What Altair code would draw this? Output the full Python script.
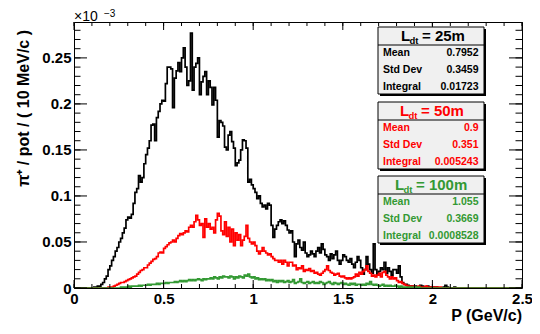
import altair as alt
import pandas as pd

# ---------------- data (bin contents, units of 1e-3, bins of 0.01 GeV/c) ----------------
N_BINS = 250
BIN_W = 0.01

black_first_bin = 10
black_vals = [
    0.000, 0.001, 0.001, 0.002, 0.002, 0.004, 0.006, 0.010, 0.013, 0.020,
    0.024, 0.030, 0.034, 0.040, 0.044, 0.050, 0.054, 0.060, 0.065, 0.074,
    0.077, 0.076, 0.080, 0.092, 0.104, 0.108, 0.122, 0.115, 0.120, 0.135,
    0.145, 0.152, 0.160, 0.177, 0.178, 0.160, 0.185, 0.192, 0.200, 0.204,
    0.203, 0.222, 0.240, 0.240, 0.238, 0.196, 0.228, 0.236, 0.245, 0.235,
    0.250, 0.261, 0.240, 0.220, 0.225, 0.277, 0.215, 0.240, 0.244, 0.250,
    0.210, 0.224, 0.230, 0.235, 0.210, 0.225, 0.218, 0.199, 0.218, 0.204,
    0.164, 0.182, 0.180, 0.176, 0.153, 0.150, 0.166, 0.170, 0.159, 0.152,
    0.133, 0.136, 0.139, 0.150, 0.161, 0.160, 0.152, 0.115, 0.118, 0.112,
    0.108, 0.104, 0.097, 0.100, 0.092, 0.088, 0.090, 0.086, 0.092, 0.090,
    0.068, 0.055, 0.064, 0.068, 0.072, 0.074, 0.070, 0.073, 0.068, 0.063,
    0.060, 0.062, 0.050, 0.034, 0.048, 0.052, 0.044, 0.041, 0.050, 0.038,
    0.034, 0.036, 0.040, 0.037, 0.034, 0.040, 0.044, 0.038, 0.048, 0.042,
    0.036, 0.034, 0.030, 0.037, 0.032, 0.036, 0.040, 0.030, 0.026, 0.030,
    0.036, 0.034, 0.030, 0.028, 0.032, 0.026, 0.022, 0.028, 0.034, 0.030,
    0.022, 0.015, 0.020, 0.034, 0.026, 0.020, 0.016, 0.048, 0.020, 0.014,
    0.018, 0.022, 0.020, 0.028, 0.016, 0.022, 0.018, 0.014, 0.020, 0.020,
    0.016, 0.024, 0.012, 0.006, 0.004, 0.004, 0.003, 0.002, 0.002, 0.001,
    0.002, 0.001, 0.001, 0.003, 0.002, 0.001, 0.001, 0.002, 0.001, 0.000,
    0.001, 0.000, 0.001, 0.000, 0.000, 0.000, 0.001, 0.003, 0.001, 0.000,
    0.000, 0.000, 0.001, 0.000,
]

red_first_bin = 18
red_vals = [
    0.000, 0.001, 0.001, 0.001, 0.002, 0.003, 0.004, 0.005, 0.006, 0.006,
    0.007, 0.008, 0.009, 0.010, 0.011, 0.012, 0.013, 0.015, 0.017, 0.019,
    0.020, 0.022, 0.022, 0.025, 0.027, 0.029, 0.031, 0.032, 0.034, 0.038,
    0.039, 0.038, 0.043, 0.045, 0.047, 0.049, 0.050, 0.052, 0.050, 0.054,
    0.057, 0.059, 0.058, 0.060, 0.062, 0.061, 0.066, 0.068, 0.066, 0.072,
    0.079, 0.074, 0.068, 0.070, 0.055, 0.075, 0.066, 0.070, 0.064, 0.066,
    0.060, 0.074, 0.081, 0.078, 0.062, 0.058, 0.072, 0.056, 0.066, 0.050,
    0.064, 0.046, 0.060, 0.052, 0.058, 0.046, 0.052, 0.056, 0.068, 0.054,
    0.050, 0.048, 0.050, 0.046, 0.040, 0.037, 0.040, 0.044, 0.040, 0.038,
    0.036, 0.037, 0.034, 0.032, 0.030, 0.030, 0.028, 0.030, 0.026, 0.030,
    0.028, 0.024, 0.028, 0.028, 0.024, 0.025, 0.020, 0.022, 0.021, 0.024,
    0.018, 0.020, 0.019, 0.021, 0.018, 0.019, 0.016, 0.017, 0.015, 0.014,
    0.016, 0.018, 0.020, 0.024, 0.019, 0.017, 0.016, 0.014, 0.015, 0.016,
    0.013, 0.012, 0.013, 0.011, 0.010, 0.011, 0.010, 0.011, 0.012, 0.015,
    0.013, 0.017, 0.015, 0.018, 0.020, 0.024, 0.018, 0.016, 0.013, 0.014,
    0.012, 0.014, 0.016, 0.012, 0.017, 0.018, 0.014, 0.012, 0.010, 0.012,
    0.010, 0.011, 0.008, 0.006, 0.007, 0.005, 0.004, 0.003, 0.002, 0.002,
    0.001, 0.002, 0.001, 0.001, 0.002, 0.001, 0.001, 0.001, 0.002, 0.001,
    0.001, 0.001, 0.001, 0.000, 0.001, 0.000, 0.001, 0.000,
]

green_first_bin = 25
green_vals = [
    0.000, 0.001, 0.001, 0.001, 0.001, 0.002, 0.001, 0.002, 0.002, 0.002,
    0.002, 0.003, 0.002, 0.003, 0.003, 0.003, 0.004, 0.003, 0.004, 0.004,
    0.004, 0.005, 0.004, 0.005, 0.005, 0.005, 0.006, 0.005, 0.006, 0.006,
    0.006, 0.007, 0.006, 0.007, 0.008, 0.007, 0.008, 0.007, 0.008, 0.009,
    0.008, 0.009, 0.008, 0.009, 0.010, 0.009, 0.008, 0.010, 0.009, 0.010,
    0.010, 0.011, 0.010, 0.012, 0.011, 0.010, 0.012, 0.011, 0.013, 0.012,
    0.012, 0.011, 0.013, 0.012, 0.010, 0.012, 0.011, 0.013, 0.012, 0.011,
    0.014, 0.013, 0.015, 0.012, 0.011, 0.012, 0.010, 0.011, 0.009, 0.010,
    0.009, 0.010, 0.008, 0.009, 0.008, 0.009, 0.007, 0.008, 0.006, 0.008,
    0.007, 0.008, 0.006, 0.007, 0.008, 0.006, 0.007, 0.009, 0.005, 0.006,
    0.007, 0.010, 0.006, 0.005, 0.006, 0.007, 0.005, 0.006, 0.007, 0.005,
    0.006, 0.005, 0.007, 0.006, 0.004, 0.005, 0.006, 0.007, 0.005, 0.004,
    0.006, 0.005, 0.004, 0.005, 0.006, 0.004, 0.005, 0.004, 0.003, 0.005,
    0.004, 0.005, 0.003, 0.004, 0.004, 0.003, 0.004, 0.003, 0.005, 0.004,
    0.007, 0.004, 0.003, 0.004, 0.003, 0.002, 0.003, 0.004, 0.002, 0.003,
    0.002, 0.003, 0.002, 0.002, 0.003, 0.002, 0.001, 0.002, 0.001, 0.001,
    0.001, 0.001, 0.001, 0.000, 0.001, 0.001, 0.000, 0.001, 0.000, 0.000,
]

x_major = [0, 0.5, 1, 1.5, 2, 2.5]
x_minor = [round(i * 0.1, 1) for i in range(26)]
y_major = [0, 0.05, 0.1, 0.15, 0.2, 0.25]
y_minor = [round(i * 0.01, 2) for i in range(29)]

stat_titles = ["= 25m", "= 50m", "= 100m"]
stat_labels = ["Mean", "Std Dev", "Integral"]
stat_values = [
    ["0.7952", "0.3459", "0.01723"],
    ["0.9", "0.351", "0.005243"],
    ["1.055", "0.3669", "0.0008528"],
]
colors = ["black", "#ff0000", "#339933"]

# ---------------- layout ----------------
W, H = 448, 266
YMAX = 0.289
FONT = "Liberation Sans"


def hist_df(first, vals):
    full = [0.0] * N_BINS
    for i, v in enumerate(vals):
        full[first + i] = v
    edges = [round(i * BIN_W, 2) for i in range(N_BINS + 1)]
    return pd.DataFrame({"p": edges, "v": full + [full[-1]]})


xscale = alt.Scale(domain=[0, 2.5], nice=False, zero=False)
yscale = alt.Scale(domain=[0, YMAX], nice=False, zero=False)

x_axis = alt.Axis(values=x_major, format="~g", ticks=False, domain=False, grid=False,
                  labelPadding=15.5, labelBaseline="alphabetic", labelFontSize=15,
                  labelFont=FONT, labelFontWeight="bold", labelColor="black",
                  labelFlush=False, labelOverlap=False, title=None)
y_axis = alt.Axis(values=y_major, format="~g", ticks=False, domain=False, grid=False,
                  labelPadding=3, labelFontSize=15, labelFont=FONT,
                  labelFontWeight="bold", labelColor="black",
                  labelFlush=False, labelOverlap=False, title=None)

one = pd.DataFrame({"a": [0]})
layers = []

# histograms
for first, vals, col in [(black_first_bin, black_vals, colors[0]),
                         (red_first_bin, red_vals, colors[1]),
                         (green_first_bin, green_vals, colors[2])]:
    layers.append(
        alt.Chart(hist_df(first, vals)).mark_line(
            interpolate="step-after", color=col, strokeWidth=1.7, clip=True
        ).encode(
            x=alt.X("p:Q", scale=xscale, axis=x_axis),
            y=alt.Y("v:Q", scale=yscale, axis=y_axis),
        )
    )

# ticks (inside, on all four sides)
xt_major = pd.DataFrame({"t": x_major})
xt_minor = pd.DataFrame({"t": x_minor})
yt_major = pd.DataFrame({"t": y_major})
yt_minor = pd.DataFrame({"t": y_minor})
for df, ln in [(xt_major, 8), (xt_minor, 4)]:
    xe = alt.X("t:Q", scale=xscale, axis=x_axis)
    layers.append(alt.Chart(df).mark_rule(color="black", strokeWidth=1).encode(
        x=xe, y=alt.value(H), y2=alt.value(H - ln)))
    layers.append(alt.Chart(df).mark_rule(color="black", strokeWidth=1).encode(
        x=xe, y=alt.value(0), y2=alt.value(ln)))
for df, ln in [(yt_major, 13), (yt_minor, 6.5)]:
    ye = alt.Y("t:Q", scale=yscale, axis=y_axis)
    layers.append(alt.Chart(df).mark_rule(color="black", strokeWidth=1).encode(
        y=ye, x=alt.value(0), x2=alt.value(ln)))
    layers.append(alt.Chart(df).mark_rule(color="black", strokeWidth=1).encode(
        y=ye, x=alt.value(W), x2=alt.value(W - ln)))


def text(txt, x, y, size, color="black", align="left", baseline="alphabetic",
         weight="bold", angle=0):
    return alt.Chart(one).mark_text(
        text=txt, align=align, baseline=baseline, font=FONT, fontSize=size,
        fontWeight=weight, color=color, angle=angle
    ).encode(x=alt.value(x), y=alt.value(y))


# stat boxes
box_x0, box_x1 = 304, 410
box_tops = [5, 80, 154]
box_h = 67
title_L_x = [327, 326, 321]
for k in range(3):
    y0 = box_tops[k]
    y1 = y0 + box_h
    col = colors[k]
    layers.append(alt.Chart(one).mark_rect(fill="black").encode(
        x=alt.value(box_x0 + 2), x2=alt.value(box_x1 + 2),
        y=alt.value(y0 + 2), y2=alt.value(y1 + 2)))
    layers.append(alt.Chart(one).mark_rect(fill="#f0f0f0", stroke="black", strokeWidth=1).encode(
        x=alt.value(box_x0), x2=alt.value(box_x1), y=alt.value(y0), y2=alt.value(y1)))
    layers.append(alt.Chart(one).mark_rule(color="black", strokeWidth=1).encode(
        x=alt.value(box_x0), x2=alt.value(box_x1), y=alt.value(y0 + 18)))
    lx = title_L_x[k]
    layers.append(text("L", lx, y0 + 14, 15, col))
    layers.append(text("dt", lx + 8.5, y0 + 17, 9.5, col))
    layers.append(text(stat_titles[k], lx + 21, y0 + 14, 15, col))
    for r in range(3):
        ry = y0 + 26 + r * 17
        layers.append(text(stat_labels[r], box_x0 + 5, ry, 10.5, col, baseline="middle"))
        layers.append(text(stat_values[k][r], box_x1 - 5.5, ry, 10.5, col,
                           align="right", baseline="middle"))

# axis titles and exponent
layers.append(text("P (GeV/c)", W, 299, 16, align="right"))
layers.append(text("\u03c0\u207a / pot / ( 10 MeV/c )", -50, 8, 16, align="right",
                   baseline="middle", angle=270))
layers.append(text("\u00d710", 0, -1, 14, weight="normal"))
layers.append(text("\u22123", 30, -5, 10, weight="normal"))

chart = alt.layer(*layers).properties(
    width=W, height=H,
    autosize=alt.AutoSizeParams(type="none"),
    padding={"left": 66, "top": 14, "right": 10, "bottom": 38},
    background="white",
).configure_view(stroke="black", strokeWidth=1)

chart.save("out.html", embed_options={"renderer": "svg", "actions": False})
